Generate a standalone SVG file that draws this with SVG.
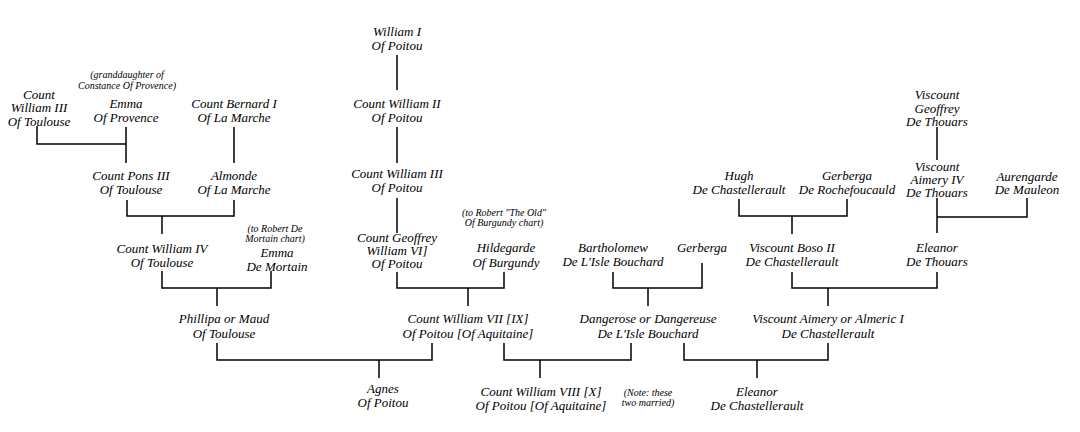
<svg xmlns="http://www.w3.org/2000/svg" width="1080" height="432" viewBox="0 0 1080 432">
<style>
text{font-family:"Liberation Serif","DejaVu Serif",serif;font-style:italic;font-size:13px;fill:#000;text-anchor:middle}
text.s{font-size:10px}
.c path{fill:none;stroke:#000;stroke-width:1.5}
</style>
<rect width="1080" height="432" fill="#fff"/>
<g class="c" id="connectors">
<path d="M397 55V90"/>
<path d="M397 127V163"/>
<path d="M397 198V233"/>
<path d="M37 126V144H126M126 127V163"/>
<path d="M234 127V163"/>
<path d="M127 200V216H234V200M162 216V234"/>
<path d="M162 271V288H271V271M217 288V306"/>
<path d="M397 272V288H504V272M468 288V306"/>
<path d="M217 343V360H432V343M379 360V378"/>
<path d="M504 343V360H631V343M540 360V378"/>
<path d="M684 343V360H828V343M757 360V378"/>
<path d="M613 272V288H702V263M648 288V306"/>
<path d="M792 272V288H937V272M828 288V306"/>
<path d="M739 199V216H847V199M792 216V234"/>
<path d="M937 127V160"/>
<path d="M937 198V233M937 217H1027V198"/>
</g>
<g id="william1"><text x="397" y="36">William I</text><text x="397" y="50">Of Poitou</text></g>
<g id="william2"><text x="397" y="108">Count William II</text><text x="397" y="122">Of Poitou</text></g>
<g id="william3p"><text x="397" y="178">Count William III</text><text x="397" y="192">Of Poitou</text></g>
<g id="william3t"><text x="39" y="99">Count</text><text x="39" y="112">William III</text><text x="39" y="126">Of Toulouse</text></g>
<g id="emmaprovence"><text class="s" x="127" y="78">(granddaughter of</text><text class="s" x="127" y="89">Constance Of Provence)</text><text x="126" y="108">Emma</text><text x="126" y="122">Of Provence</text></g>
<g id="bernard"><text x="234" y="108">Count Bernard I</text><text x="234" y="122">Of La Marche</text></g>
<g id="pons"><text x="131" y="180">Count Pons III</text><text x="131" y="194">Of Toulouse</text></g>
<g id="almonde"><text x="234" y="180">Almonde</text><text x="234" y="194">Of La Marche</text></g>
<g id="william4t"><text x="162" y="253">Count William IV</text><text x="162" y="267">Of Toulouse</text></g>
<g id="emmamortain"><text class="s" x="275" y="232">(to Robert De</text><text class="s" x="275" y="242">Mortain chart)</text><text x="277" y="257">Emma</text><text x="277" y="271">De Mortain</text></g>
<g id="phillipa"><text x="224" y="323">Phillipa or Maud</text><text x="224" y="338">Of Toulouse</text></g>
<g id="geoffrey"><text x="397" y="242">Count Geoffrey</text><text x="397" y="255">William VI]</text><text x="397" y="268">Of Poitou</text></g>
<g id="hildegarde"><text class="s" x="504" y="216">(to Robert "The Old"</text><text class="s" x="504" y="226">Of Burgundy chart)</text><text x="506" y="252">Hildegarde</text><text x="506" y="267">Of Burgundy</text></g>
<g id="william7"><text x="468" y="323">Count William VII [IX]</text><text x="468" y="338">Of Poitou [Of Aquitaine]</text></g>
<g id="agnes"><text x="383" y="393">Agnes</text><text x="383" y="407">Of Poitou</text></g>
<g id="william8"><text x="541" y="396">Count William VIII [X]</text><text x="541" y="410">Of Poitou [Of Aquitaine]</text></g>
<g id="note"><text class="s" x="648" y="396">(Note: these</text><text class="s" x="648" y="406">two married)</text></g>
<g id="eleanorc"><text x="757" y="396">Eleanor</text><text x="757" y="410">De Chastellerault</text></g>
<g id="bartholomew"><text x="613" y="252">Bartholomew</text><text x="613" y="266">De L'Isle Bouchard</text></g>
<g id="gerberga1"><text x="702" y="252">Gerberga</text></g>
<g id="dangerose"><text x="648" y="323">Dangerose or Dangereuse</text><text x="648" y="338">De L'Isle Bouchard</text></g>
<g id="boso"><text x="792" y="252">Viscount Boso II</text><text x="792" y="266">De Chastellerault</text></g>
<g id="eleanort"><text x="937" y="252">Eleanor</text><text x="937" y="266">De Thouars</text></g>
<g id="aimeryalmeric"><text x="828" y="323">Viscount Aimery or Almeric I</text><text x="828" y="338">De Chastellerault</text></g>
<g id="hugh"><text x="739" y="180">Hugh</text><text x="739" y="194">De Chastellerault</text></g>
<g id="gerberga2"><text x="847" y="180">Gerberga</text><text x="847" y="194">De Rochefoucauld</text></g>
<g id="geoffreyt"><text x="937" y="99">Viscount</text><text x="937" y="113">Geoffrey</text><text x="937" y="126">De Thouars</text></g>
<g id="aimery4"><text x="937" y="171">Viscount</text><text x="937" y="184">Aimery IV</text><text x="937" y="197">De Thouars</text></g>
<g id="aurengarde"><text x="1027" y="181">Aurengarde</text><text x="1027" y="194">De Mauleon</text></g>
</svg>
